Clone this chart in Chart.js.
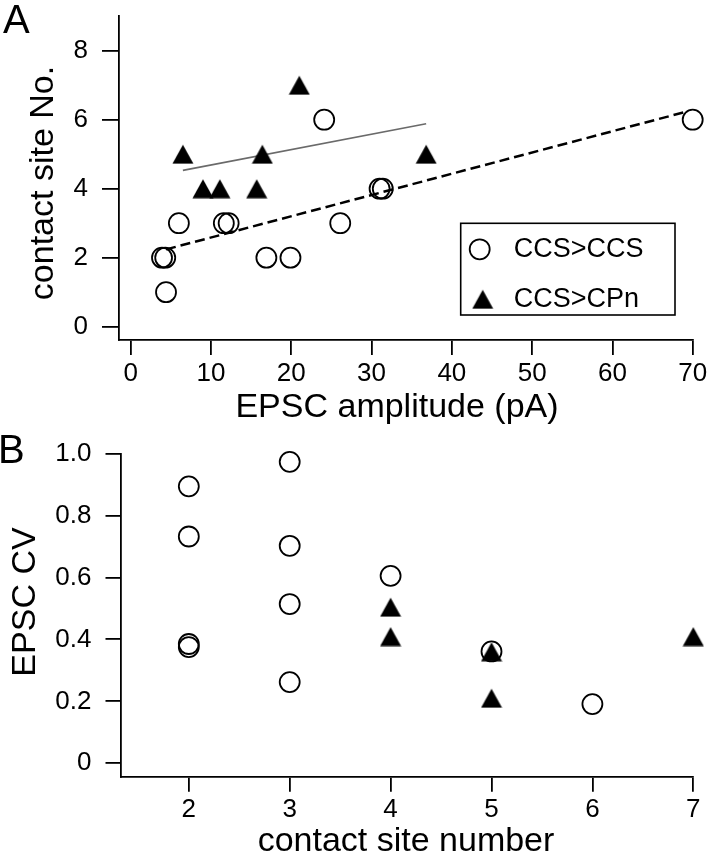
<!DOCTYPE html>
<html lang="en">
<head>
    <meta charset="UTF-8">
    <title>EPSC amplitude / contact sites</title>
    <script src="https://cdn.jsdelivr.net/npm/chart.js"></script>
    <style>
        body {
            margin: 0;
            background-color: #fff;
        }

        .figure {
            position: relative;
            width: 712px;
            height: 853px;
        }

        .figure canvas {
            position: absolute;
            left: 0;
            top: 0;
        }
    </style>
</head>
<body>
    <div class="figure">
        <canvas id="chartB" width="712" height="853"></canvas>
        <canvas id="chartA" width="712" height="853"></canvas>
    </div>

    <script>
        // ---- panel A data: contact sites vs EPSC amplitude
        const ccsCcsAmp   = [3.9, 4.3, 4.4, 6.0, 11.6, 12.2, 16.9, 19.9, 24.1, 26.1, 31.0, 31.4, 70.0];
        const ccsCcsSites = [2, 2, 1, 3, 3, 3, 2, 2, 6, 3, 4, 4, 6];
        const ccsCpnAmp   = [6.5, 9.0, 11.1, 15.7, 16.4, 21.0, 36.8];
        const ccsCpnSites = [5, 4, 4, 4, 5, 7, 5];
        // fit lines (end points)
        const fitCpnX = [6.5, 36.8];
        const fitCpnY = [4.53, 5.88];
        const fitCcsX = [4.4, 69.0];
        const fitCcsY = [2.24, 6.22];
        const xTicksA = [0, 10, 20, 30, 40, 50, 60, 70];
        const yTicksA = [0, 2, 4, 6, 8];

        // ---- panel B data: EPSC CV vs contact site number
        const ccsCcsSitesB = [2, 2, 2, 2, 3, 3, 3, 3, 4, 5, 6];
        const ccsCcsCV     = [0.894, 0.732, 0.385, 0.375, 0.973, 0.702, 0.514, 0.262, 0.605, 0.361, 0.191];
        const ccsCpnSitesB = [4, 4, 5, 5, 7];
        const ccsCpnCV     = [0.504, 0.409, 0.36, 0.21, 0.409];
        const xTicksB = [2, 3, 4, 5, 6, 7];
        const yTicksB = [0, 0.2, 0.4, 0.6, 0.8, 1.0];
        const yTickLabelsB = ['0', '0.2', '0.4', '0.6', '0.8', '1.0'];

        const FONT = '"Liberation Sans", Arial, Helvetica, sans-serif';
        Chart.defaults.font.family = FONT;
        Chart.defaults.color = '#000';

        function pts(xs, ys) {
            return xs.map((x, i) => ({ x: x, y: ys[i] }));
        }

        // filled triangle marker, centred on its bounding box like the original
        const tri = document.createElement('canvas');
        tri.width = 22;
        tri.height = 20;
        (function () {
            const c = tri.getContext('2d');
            c.fillStyle = '#000';
            c.beginPath();
            c.moveTo(0.5, 19.5);
            c.lineTo(21.5, 19.5);
            c.lineTo(11, 0.5);
            c.closePath();
            c.fill();
        })();

        function circleSet(label, data) {
            return {
                label: label,
                data: data,
                pointStyle: 'circle',
                pointRadius: 10,
                pointBorderWidth: 1.8,
                pointBorderColor: '#000',
                pointBackgroundColor: 'rgba(0,0,0,0)',
                showLine: false,
                clip: false,
                order: 2
            };
        }

        function triangleSet(label, data) {
            return {
                label: label,
                data: data,
                pointStyle: tri,
                pointRadius: 11,
                showLine: false,
                clip: false,
                order: 1
            };
        }

        function lineSet(data, color, width, dash) {
            return {
                data: data,
                showLine: true,
                borderColor: color,
                borderWidth: width,
                borderDash: dash,
                pointRadius: 0,
                clip: false,
                order: 3
            };
        }

        function axis(min, max, ticks, tickLen, pad, size, labels) {
            return {
                type: 'linear',
                min: min,
                max: max,
                bounds: 'data',
                afterBuildTicks: s => { s.ticks = ticks.map(v => ({ value: v })); },
                afterFit: s => {
                    if (s.isHorizontal()) {
                        s.height = size;
                        s.paddingLeft = 0;
                        s.paddingRight = 0;
                    } else {
                        s.width = size;
                        s.paddingTop = 0;
                        s.paddingBottom = 0;
                    }
                },
                ticks: {
                    autoSkip: false,
                    maxRotation: 0,
                    padding: pad,
                    color: '#000',
                    font: { size: 26 },
                    callback: v => labels ? labels[ticks.indexOf(v)] : String(v)
                },
                grid: {
                    drawOnChartArea: false,
                    drawTicks: true,
                    tickLength: tickLen,
                    tickWidth: 1.8,
                    tickColor: '#000',
                    color: '#000',
                    lineWidth: 1.8
                },
                border: { display: true, color: '#000', width: 1.8 }
            };
        }

        // panel letter and axis titles
        const panelText = {
            id: 'panelText',
            afterDraw(chart, args, o) {
                const ctx = chart.ctx;
                ctx.save();
                ctx.fillStyle = '#000';
                ctx.textBaseline = 'alphabetic';
                ctx.textAlign = 'left';
                ctx.font = '40px ' + FONT;
                ctx.fillText(o.letter, o.letterX, o.letterY);
                ctx.font = '34px ' + FONT;
                ctx.textAlign = 'center';
                ctx.fillText(o.xTitle, o.xTitleX, o.xTitleY);
                ctx.translate(o.yTitleX, o.yTitleY);
                ctx.rotate(-Math.PI / 2);
                ctx.fillText(o.yTitle, 0, 0);
                ctx.restore();
            }
        };

        // boxed legend inside panel A
        const boxLegend = {
            id: 'boxLegend',
            afterDraw(chart, args, o) {
                if (!o.show) return;
                const ctx = chart.ctx;
                const sets = chart.data.datasets.filter(d => d.label);
                ctx.save();
                ctx.strokeStyle = '#000';
                ctx.lineWidth = 1.6;
                ctx.strokeRect(o.x, o.y, o.w, o.h);
                ctx.font = '27px ' + FONT;
                ctx.fillStyle = '#000';
                ctx.textAlign = 'left';
                ctx.textBaseline = 'alphabetic';
                sets.forEach((d, i) => {
                    const cy = o.y + 26 + i * 50;
                    if (d.pointStyle === 'circle') {
                        ctx.beginPath();
                        ctx.lineWidth = d.pointBorderWidth;
                        ctx.arc(o.x + 19, cy, d.pointRadius, 0, Math.PI * 2);
                        ctx.stroke();
                    } else {
                        ctx.drawImage(d.pointStyle, o.x + 22 - d.pointStyle.width / 2, cy - d.pointStyle.height / 2);
                    }
                    ctx.fillText(d.label, o.x + 53, cy + 7.5);
                });
                ctx.restore();
            }
        };

        new Chart(document.getElementById('chartA'), {
            type: 'scatter',
            data: {
                datasets: [
                    circleSet('CCS>CCS', pts(ccsCcsAmp, ccsCcsSites)),
                    triangleSet('CCS>CPn', pts(ccsCpnAmp, ccsCpnSites)),
                    lineSet(pts(fitCpnX, fitCpnY), '#6a6a6a', 1.6, []),
                    lineSet(pts(fitCcsX, fitCcsY), '#000', 2.5, [10, 5])
                ]
            },
            options: {
                responsive: false,
                animation: false,
                devicePixelRatio: 1,
                layout: { padding: { left: 0, top: 16, right: 19.3, bottom: 443 } },
                scales: {
                    x: axis(-1.457, 70, xTicksA, 15, 3, 70),
                    y: axis(-0.386, 9.006, yTicksA, 17, 14, 119)
                },
                plugins: {
                    legend: { display: false },
                    tooltip: { enabled: false },
                    panelText: {
                        letter: 'A', letterX: 3, letterY: 33,
                        xTitle: 'EPSC amplitude (pA)', xTitleX: 397, xTitleY: 417,
                        yTitle: 'contact site No.', yTitleX: 53, yTitleY: 183
                    },
                    boxLegend: { show: true, x: 460.7, y: 223.3, w: 214.3, h: 91.7 }
                }
            },
            plugins: [panelText, boxLegend]
        });

        new Chart(document.getElementById('chartB'), {
            type: 'scatter',
            data: {
                datasets: [
                    circleSet('CCS>CCS', pts(ccsCcsSitesB, ccsCcsCV)),
                    triangleSet('CCS>CPn', pts(ccsCpnSitesB, ccsCpnCV))
                ]
            },
            options: {
                responsive: false,
                animation: false,
                devicePixelRatio: 1,
                layout: { padding: { left: 0, top: 453.5, right: 18.7, bottom: 16.3 } },
                scales: {
                    x: axis(1.323, 7, xTicksB, 15, 3, 60),
                    y: axis(-0.0433, 1.0, yTicksB, 15, 14, 120.5, yTickLabelsB)
                },
                plugins: {
                    legend: { display: false },
                    tooltip: { enabled: false },
                    panelText: {
                        letter: 'B', letterX: -2, letterY: 463,
                        xTitle: 'contact site number', xTitleX: 406, xTitleY: 851,
                        yTitle: 'EPSC CV', yTitleX: 35, yTitleY: 602
                    },
                    boxLegend: { show: false }
                }
            },
            plugins: [panelText, boxLegend]
        });
    </script>
</body>
</html>
